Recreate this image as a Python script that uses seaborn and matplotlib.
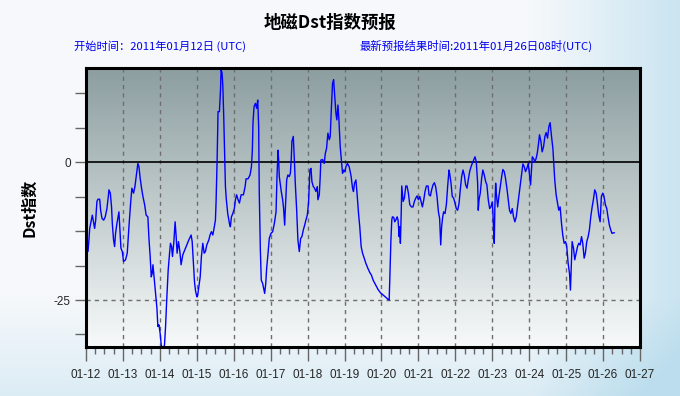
import numpy as np
import matplotlib
matplotlib.use("Agg")
import matplotlib.pyplot as plt
from matplotlib.ticker import MultipleLocator
import seaborn as sns

# Dst forecast, hours since 2011-01-12 00:00 UTC
hours = [
    1.3, 1.9, 2.4, 3.5, 4.1, 5.0, 5.6, 6.3, 7.1, 7.8, 8.9, 9.5, 10.4, 11.5, 12.5, 13.6,
    14.5, 14.9, 15.8, 16.6, 17.1, 17.9, 18.6, 19.2, 20.1, 21.4, 21.8, 22.7, 23.6, 24.4,
    25.7, 26.8, 27.9, 29.0, 29.8, 30.9, 31.8, 32.6, 33.7, 34.4, 35.2, 36.1, 37.0, 38.1,
    39.1, 40.2, 40.9, 41.7, 42.4, 43.0, 43.5, 43.9, 44.5, 45.2, 46.1, 46.7, 47.4, 48.2,
    48.9, 49.9, 51.0, 51.7, 52.5, 53.4, 54.3, 54.9, 55.6, 56.2, 57.1, 57.9, 58.6, 59.2,
    60.1, 61.0, 61.8, 62.9, 64.2, 65.5, 66.8, 68.3, 69.0, 69.8, 70.5, 71.1, 72.0, 72.6,
    73.3, 74.2, 75.0, 75.9, 76.8, 77.6, 78.5, 79.8, 80.6, 81.5, 82.4, 83.2, 84.1, 84.5,
    85.2, 85.8, 86.7, 87.4, 87.8, 88.4, 88.9, 89.5, 90.2, 90.6, 91.2, 92.1, 93.2, 93.8,
    94.5, 95.4, 96.4, 97.1, 97.9, 98.8, 99.7, 100.8, 102.3, 103.4, 104.0, 105.3, 106.6,
    107.5, 108.1, 108.5, 109.2, 110.1, 110.9, 111.6, 112.2, 112.6, 113.3, 113.9, 114.8,
    115.7, 116.1, 116.8, 117.4, 118.3, 119.1, 120.2, 121.3, 122.4, 123.5, 124.1, 124.8,
    125.2, 125.6, 126.3, 126.9, 127.8, 128.4, 129.1, 129.5, 130.4, 131.2, 132.1, 132.8,
    133.4, 133.8, 134.7, 135.4, 136.0, 136.9, 137.7, 138.6, 139.5, 140.3, 141.2, 142.1,
    142.9, 143.8, 144.6, 145.5, 146.2, 146.8, 147.7, 148.5, 149.4, 150.3, 150.7, 151.6,
    152.2, 152.6, 153.7, 154.8, 155.5, 156.3, 157.2, 158.1, 158.7, 159.4, 160.2, 160.9,
    161.5, 162.4, 163.0, 163.7, 164.3, 165.2, 166.1, 166.7, 167.4, 168.2, 168.9, 169.9,
    171.0, 171.7, 172.3, 173.2, 173.8, 174.5, 175.4, 176.2, 177.1, 177.9, 178.8, 179.7,
    180.8, 181.8, 183.1, 184.4, 185.5, 186.6, 188.3, 189.8, 191.4, 193.1, 194.8, 196.3,
    197.0, 197.4, 198.1, 198.7, 199.1, 200.0, 200.6, 201.3, 202.2, 202.8, 203.5, 203.9,
    204.3, 204.8, 205.2, 205.6, 206.1, 206.9, 207.8, 208.6, 209.5, 210.4, 211.5, 212.5,
    213.4, 214.3, 215.1, 216.0, 216.9, 217.7, 218.6, 219.5, 220.3, 221.2, 222.3, 222.9,
    223.8, 224.6, 225.5, 226.4, 227.2, 228.1, 229.0, 229.8, 230.5, 231.1, 231.8, 232.4,
    233.3, 234.2, 235.0, 235.9, 236.3, 237.2, 238.0, 238.9, 239.8, 240.6, 241.5, 242.4,
    243.2, 244.1, 245.0, 245.8, 246.7, 247.6, 248.4, 249.3, 250.2, 251.0, 251.9, 252.8,
    253.6, 254.5, 254.9, 255.4, 256.2, 257.1, 257.9, 258.8, 259.7, 260.5, 261.4, 262.3,
    263.1, 264.0, 264.4, 264.9, 265.3, 265.7, 266.2, 266.6, 267.5, 268.3, 269.2, 270.1,
    270.9, 271.8, 272.6, 273.5, 274.4, 275.2, 276.1, 277.0, 277.8, 278.7, 279.6, 280.4,
    281.3, 282.2, 283.0, 283.9, 284.8, 285.6, 286.5, 287.4, 288.2, 288.9, 289.5, 290.0,
    290.8, 291.7, 292.5, 293.2, 293.8, 294.7, 295.6, 296.4, 297.3, 298.2, 299.0, 299.9,
    300.8, 301.6, 302.5, 303.4, 304.0, 304.6, 305.5, 306.4, 307.2, 308.1, 309.0, 309.8,
    310.7, 311.6, 312.4, 313.3, 314.2, 314.8, 315.5, 315.9, 316.8, 317.6, 318.5, 319.4,
    320.2, 321.1, 322.0, 322.8, 323.7, 324.5, 325.4, 326.3, 327.1, 328.0, 328.9, 329.7,
    330.6, 331.5, 332.3, 333.2, 334.1, 334.9, 335.8, 336.6, 337.5, 338.4, 339.2, 340.1,
    341.0, 341.8, 342.7, 343.4,
]
dst = [
    -16.2, -14.1, -12.0, -10.5, -9.6, -11.1, -12.0, -10.5, -7.1, -6.7, -6.7, -8.7, -10.2, -10.5, -9.9, -8.4,
    -6.2, -5.0, -5.6, -8.1, -11.1, -14.1, -15.3, -12.9, -11.1, -9.0, -11.1, -15.6, -16.2, -18.0,
    -17.7, -16.5, -11.7, -7.4, -4.7, -5.6, -4.4, -2.6, -0.2, -0.8, -2.9, -4.7, -6.2, -7.7,
    -9.6, -9.9, -13.8, -17.1, -20.8, -20.2, -18.6, -19.8, -21.4, -23.8, -26.5, -29.8, -29.5, -31.1,
    -33.2, -33.8, -33.2, -29.8, -24.7, -19.6, -16.5, -14.7, -15.3, -17.1, -14.4, -10.8, -13.5, -16.5,
    -14.4, -16.2, -18.6, -16.8, -15.9, -15.0, -14.1, -13.2, -14.4, -18.3, -21.7, -23.2, -24.4, -24.1,
    -22.6, -20.8, -17.1, -14.7, -16.5, -16.2, -15.0, -14.1, -13.2, -12.6, -13.2, -12.0, -10.5, -7.4,
    0.4, 9.2, 9.2, 13.1, 16.8, 16.2, 14.0, 8.3, 0.4, -4.4, -6.8, -9.3, -11.1, -11.7,
    -9.9, -9.3, -8.4, -6.8, -5.9, -6.8, -7.4, -5.9, -5.9, -4.4, -3.0, -3.0, -2.3,
    -0.8, 2.2, 7.1, 10.1, 10.7, 9.8, 11.3, 6.5, -5.6, -15.9, -21.4, -22.0,
    -23.2, -23.8, -22.0, -19.2, -16.5, -13.8, -12.9, -12.6, -11.1, -9.0, -2.6, 2.2,
    0.4, -2.6, -4.1, -5.3, -6.8, -8.4, -11.4, -8.7, -3.2, -2.3, -2.6, -2.0,
    0.7, 3.8, 4.7, 0.4, -3.8, -8.7, -14.1, -16.2, -13.8, -13.5, -12.3, -11.4,
    -10.5, -9.6, -7.4, -1.4, -1.1, -3.5, -4.4, -4.7, -5.3, -4.4, -6.8, -5.9,
    -2.6, 0.4, 0.5, -0.2, 1.6, 2.5, 5.3, 4.1, 4.7, 9.5, 14.3, 15.0,
    12.5, 8.9, 7.7, 10.4, 8.0, 2.8, -0.2, -2.0, -1.4, -1.7, -0.8, -0.2,
    -0.8, -1.7, -2.6, -4.7, -5.3, -3.8, -3.2, -5.9, -9.3, -11.7, -15.3, -16.5,
    -17.4, -18.3, -19.2, -20.0, -20.5, -21.4, -22.3, -23.1, -23.7, -24.1, -24.5, -24.9,
    -25.0, -21.4, -14.4, -10.5, -9.9, -10.0, -10.8, -10.5, -9.9, -10.5, -13.5, -11.7,
    -14.7, -9.6, -4.3, -5.6, -7.1, -6.5, -4.3, -4.3, -5.6, -7.7, -8.1, -8.1,
    -7.1, -6.5, -6.1, -6.8, -6.2, -7.1, -8.1, -6.8, -5.3, -4.3, -4.3, -5.9,
    -6.1, -5.0, -4.1, -3.7, -4.4, -6.2, -9.0, -10.2, -15.0, -11.7, -9.9, -9.0,
    -9.3, -7.6, -4.4, -1.4, -2.0, -3.8, -6.2, -6.5, -7.4, -8.4, -8.7, -7.5,
    -5.0, -2.6, -1.4, -2.3, -4.1, -4.7, -3.2, -1.7, -0.8, -0.2, 0.4, 1.0,
    0.1, -3.8, -8.7, -6.8, -5.6, -2.9, -1.4, -2.3, -3.5, -4.1, -6.8, -8.4,
    -8.1, -7.2, -9.0, -12.6, -14.7, -8.1, -3.8, -5.6, -8.1, -6.2, -4.4, -2.6,
    -1.3, -1.7, -2.9, -4.7, -6.8, -8.7, -9.3, -8.4, -9.9, -10.8, -9.9, -8.1,
    -6.2, -4.1, -2.3, -0.3, -0.8, -1.7, -1.1, -0.2, -2.3, -4.1, -1.4, 1.0,
    0.7, 0.1, 0.7, 1.6, 2.8, 5.0, 3.8, 1.9, 2.8, 4.7, 5.4, 4.4,
    6.5, 7.2, 4.7, 2.5, -0.2, -3.2, -5.9, -7.4, -8.7, -8.1, -11.1, -13.2,
    -14.7, -14.4, -15.3, -18.3, -20.2, -23.2, -17.7, -14.4, -15.6, -17.7, -16.5, -15.3,
    -14.7, -15.0, -13.5, -14.7, -17.4, -16.5, -14.4, -13.5, -12.3, -9.9, -8.1, -6.8,
    -5.0, -5.6, -7.4, -9.6, -10.8, -6.2, -5.6, -6.2, -7.7, -8.4, -9.9, -11.4,
    -12.3, -12.9, -12.8, -12.8,
]

day_labels = ["01-12", "01-13", "01-14", "01-15", "01-16", "01-17", "01-18", "01-19",
              "01-20", "01-21", "01-22", "01-23", "01-24", "01-25", "01-26", "01-27"]
y_ticks = [-31.25, -25, -18.75, -12.5, -6.25, 0, 6.25, 12.5]
y_labels = ["", "-25", "", "", "", "0", "", ""]

title = "地磁Dst指数预报"
start_text = "开始时间：2011年01月12日 (UTC)"
latest_text = "最新预报结果时间:2011年01月26日08时(UTC)"

sns.set_theme(style="white")
plt.rcParams["font.family"] = ["Noto Sans CJK SC", "DejaVu Sans"]

fig = plt.figure(figsize=(6.8, 3.96), dpi=100)

# page background: pale, getting blue towards the right and bottom
bg = fig.add_axes([0, 0, 1, 1], zorder=-10)
gx, gy = np.meshgrid(np.linspace(0, 1, 340), np.linspace(0, 1, 198))
w = np.clip((gx - 0.78) / 0.22, 0, 1) * 0.75 + np.clip((gy - 0.75) / 0.25, 0, 1) * 0.45
w = np.clip(w, 0, 1)[..., None]
pale = np.array([0.965, 0.975, 0.985])
sky = np.array([0.74, 0.87, 0.93])
bg.imshow(pale * (1 - w) + sky * w, extent=[0, 1, 0, 1], aspect="auto")
bg.axis("off")

ax = fig.add_axes([86 / 680, 1 - 347 / 396, 554 / 680, 279 / 396])
ax.patch.set_alpha(0)

# plot area gradient, grey-teal at top to near white at bottom
top_c = np.array([0.55, 0.62, 0.63])
bot_c = np.array([0.97, 0.98, 0.98])
t = np.linspace(0, 1, 256)[:, None, None]
ax.imshow(top_c * (1 - t) + bot_c * t, extent=[0, 1, 0, 1], transform=ax.transAxes,
          aspect="auto", zorder=0)

for d in range(1, 15):
    ax.axvline(d * 24, color="#6e6e6e", lw=1, ls=(0, (3, 3)), zorder=1)
ax.axhline(-25, color="#6e6e6e", lw=1, ls=(0, (3, 3)), zorder=1)
ax.axhline(0, color="black", lw=1.2, zorder=2)

sns.lineplot(x=hours, y=dst, ax=ax, color="#0000ff", linewidth=1.0, zorder=5)

ax.set_xlim(0, 360)
ax.set_ylim(-33.53, 17.12)
ax.set_xticks(range(0, 361, 24))
ax.set_xticklabels(day_labels, fontfamily="Liberation Sans", fontsize=8.5)
ax.xaxis.set_minor_locator(MultipleLocator(6))
ax.set_yticks(y_ticks)
ax.set_yticklabels(y_labels, fontfamily="Liberation Sans", fontsize=8.5)
ax.tick_params(axis="x", which="major", bottom=True, length=10, width=1, color="#666666", pad=6)
ax.tick_params(axis="x", which="minor", bottom=True, length=5, width=1, color="#666666")
ax.tick_params(axis="y", which="major", left=True, length=8, width=1, color="#666666", pad=3)
ax.grid(False)
for s in ax.spines.values():
    s.set_color("black")
    s.set_linewidth(2.2)
    s.set_zorder(6)

ax.set_xlabel("")
ax.set_ylabel("Dst指数", fontsize=11.5, fontweight="bold", color="black", labelpad=12)

fig.text(330 / 680, 1 - 23 / 396, title, ha="center", va="center",
         fontsize=12.5, fontweight="bold", color="black")
fig.text(74 / 680, 1 - 46 / 396, start_text, ha="left", va="center", fontsize=8.1, color="#0000ee")
fig.text(360 / 680, 1 - 46 / 396, latest_text, ha="left", va="center", fontsize=8.2, color="#0000ee")

fig.savefig("out.png", dpi=100)
